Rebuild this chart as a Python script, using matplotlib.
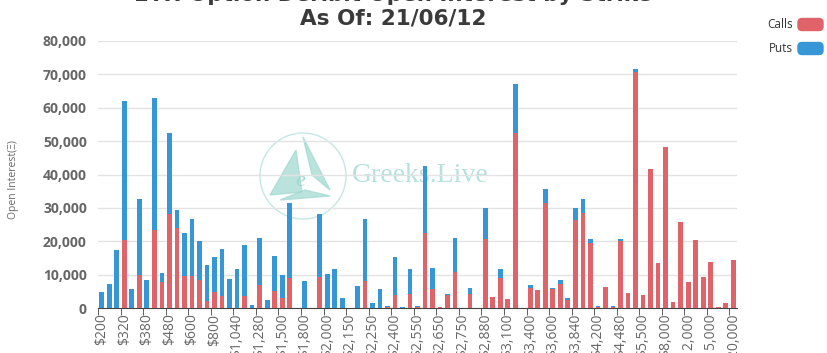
import numpy as np
import matplotlib
matplotlib.use('Agg')
import matplotlib.pyplot as plt
from matplotlib.patches import Circle, Polygon, FancyBboxPatch
from matplotlib.ticker import FuncFormatter

plt.rcParams['font.family'] = ['Open Sans', 'DejaVu Sans']

# strikes (every third one is labelled on the axis)
strikes = ['$200', '$240', '$280', '$320', '$340', '$360', '$380', '$400', '$440',
           '$480', '$520', '$560', '$600', '$640', '$720', '$800', '$880', '$960',
           '$1,040', '$1,120', '$1,200', '$1,280', '$1,360', '$1,440', '$1,500',
           '$1,600', '$1,700', '$1,800', '$1,900', '$1,950', '$2,000', '$2,050',
           '$2,100', '$2,150', '$2,175', '$2,200', '$2,250', '$2,300', '$2,350',
           '$2,400', '$2,450', '$2,500', '$2,550', '$2,575', '$2,600', '$2,650',
           '$2,700', '$2,720', '$2,750', '$2,800', '$2,840', '$2,880', '$2,960',
           '$3,000', '$3,100', '$3,200', '$3,300', '$3,400', '$3,440', '$3,500',
           '$3,600', '$3,700', '$3,800', '$3,840', '$4,000', '$4,100', '$4,200',
           '$4,300', '$4,400', '$4,480', '$4,500', '$5,000', '$5,500', '$6,000',
           '$7,000', '$8,000', '$10,000', '$11,000', '$12,000', '$13,000',
           '$14,000', '$15,000', '$16,000', '$18,000', '$20,000']

calls = [0, 0, 0, 20300, 0, 10000, 0, 23400, 7700, 28100,
         23900, 9700, 9700, 8500, 2000, 4700, 3700, 0, 0, 3700,
         0, 7000, 0, 5000, 3000, 9100, 0, 0, 0, 9200,
         0, 0, 0, 0, 0, 8100, 0, 0, 300, 3900,
         100, 4100, 300, 22600, 5600, 200, 4000, 10900, 0, 4100,
         0, 20700, 3200, 9000, 2800, 52300, 0, 6000, 5300, 31400,
         5800, 7300, 2500, 26400, 28600, 19500, 400, 6400, 400, 20200,
         4400, 70700, 3800, 41500, 13500, 48300, 1800, 25800, 7700, 20300,
         9400, 13900, 150, 1600, 14400]

puts = [4800, 7200, 17400, 41700, 5700, 22800, 8500, 39600, 2800, 24200,
        5500, 12900, 17000, 11600, 10900, 10700, 13900, 8800, 11700, 15100,
        900, 13900, 2500, 10600, 7000, 22300, 0, 8200, 0, 18900,
        10200, 11800, 3100, 0, 6500, 18500, 1400, 5700, 400, 11400,
        200, 7600, 400, 19900, 6400, 200, 100, 10000, 0, 1900,
        0, 9400, 0, 2700, 0, 14700, 0, 1000, 200, 4200,
        300, 1100, 600, 3700, 4100, 1200, 200, 0, 200, 500,
        100, 800, 0, 0, 0, 0, 0, 0, 0, 0,
        0, 0, 150, 0, 0]

red = '#e0636a'
blue = '#3796d6'

fig = plt.figure(figsize=(8.28, 3.53), dpi=100)
ax = fig.add_axes([98 / 828, 45 / 353, 639 / 828, 267 / 353])

x = np.arange(len(strikes))
ax.bar(x, calls, width=0.63, color=red, zorder=3)
ax.bar(x, puts, width=0.63, bottom=calls, color=blue, zorder=3)

ax.set_xlim(-0.5, len(strikes) - 0.5)
ax.set_ylim(0, 80000)
ax.set_yticks(np.arange(0, 80001, 10000))
ax.yaxis.set_major_formatter(FuncFormatter(lambda v, p: f'{int(v):,}'))
ax.grid(axis='y', color='#e3e3e3', linewidth=1, zorder=0)
for s in ['top', 'right', 'left']:
    ax.spines[s].set_visible(False)
ax.spines['bottom'].set_color('#444444')
ax.tick_params(axis='y', length=0, pad=8, labelsize=10, labelcolor='#666666')
for lab in ax.get_yticklabels():
    lab.set_fontweight('bold')

lab_idx = list(range(0, len(strikes), 3))
ax.set_xticks(lab_idx)
ax.set_xticklabels([strikes[i] for i in lab_idx], rotation=90, va='top',
                   ha='center', fontsize=10, color='#666666')
ax.tick_params(axis='x', which='major', length=0, pad=4)
ax.set_xticks([i - 0.5 for i in range(0, len(strikes) + 1, 3)], minor=True)
ax.tick_params(axis='x', which='minor', length=5, color='#444444')

fig.text(14 / 828, 1 - 180 / 353, 'Open Interest(Ξ)', rotation=90, ha='center',
         va='center', fontsize=7.5, color='#666666')

# title (first line is partly cut off at the top)
fig.text(393 / 828, 1 - 1 / 353, 'ETH Option Deribit Open Interest by Strike',
         ha='center', va='baseline', fontsize=15.5, fontweight='bold',
         family='DejaVu Sans', color='#3a3a3a')
fig.text(393 / 828, 1 - 24 / 353, 'As Of: 21/06/12', ha='center', va='baseline',
         fontsize=15.5, fontweight='bold', family='DejaVu Sans', color='#3a3a3a')

# legend
for name, col, yc in [('Calls', red, 24.5), ('Puts', blue, 48.5)]:
    fig.patches.append(FancyBboxPatch(((798) / 100, (353 - yc - 6) / 100), 0.25, 0.12,
                                      boxstyle='round,pad=0,rounding_size=0.04',
                                      transform=fig.dpi_scale_trans, color=col))
    fig.text(793 / 828, 1 - yc / 353, name, ha='right', va='center',
             fontsize=8.5, color='#333333')

# watermark
wm = '#b5e2dc'
fig.patches.append(Circle((303 / 100, (353 - 176) / 100), 0.43, fill=False,
                          edgecolor=wm, linewidth=1, transform=fig.dpi_scale_trans,
                          zorder=0, alpha=0.8))
tri = [[(270, 195), (296, 150), (302, 192)],
       [(303, 137), (330, 190), (312, 175)],
       [(280, 200), (330, 196), (305, 190)]]
for t in tri:
    fig.patches.append(Polygon([(px / 100, (353 - py) / 100) for px, py in t],
                               closed=True, color='#9fd8d0', alpha=0.7,
                               transform=fig.dpi_scale_trans, zorder=0))
fig.text(300 / 828, 1 - 182 / 353, 'e', fontsize=16, style='italic',
         family='Liberation Serif', color='#9fd8d0', ha='center', va='center', zorder=0)
fig.text(352 / 828, 1 - 175 / 353, 'Greeks.Live', fontsize=20, family='Liberation Serif',
         color=wm, ha='left', va='center', zorder=0)
ax.set_facecolor('none')
ax.set_zorder(2)

fig.savefig('out.png', dpi=100)
